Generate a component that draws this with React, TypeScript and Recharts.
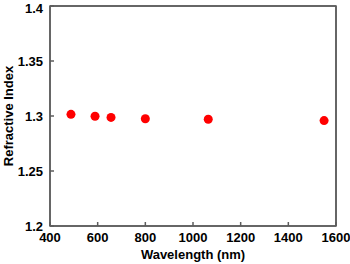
import { ScatterChart, Scatter, XAxis, YAxis, ReferenceArea } from "recharts";

// wavelength (nm) and refractive index
const wavelengths = [488, 589, 656, 800, 1064, 1550];
const refractive = [1.3015, 1.2998, 1.2987, 1.2975, 1.297, 1.2958];

const xTicks = [400, 600, 800, 1000, 1200, 1400, 1600];
const yTicks = [1.2, 1.25, 1.3, 1.35, 1.4];

const points = wavelengths.map((w, i) => ({ w, n: refractive[i] }));

const AXIS = "#5c5c5c";
const SW = 1.5;
const tickStyle = { fill: "#000", fontSize: 13, fontWeight: 700 };
const fmtY = (v: number) => String(Number(v.toFixed(2)));

export default function App() {
  return (
    <div style={{ position: "absolute", left: 0, top: 0, background: "#fff" }}>
      <ScatterChart
        width={350}
        height={264}
        margin={{ top: 5, right: 13, bottom: 0, left: 0 }}
        style={{ fontFamily: "'Liberation Sans', Arial, sans-serif" }}
      >
        <XAxis
          xAxisId="b"
          type="number"
          dataKey="w"
          domain={[400, 1600]}
          ticks={xTicks}
          height={38}
          stroke={AXIS}
          strokeWidth={SW}
          tickSize={-4}
          tickMargin={11}
          tick={tickStyle}
          label={{
            value: "Wavelength (nm)",
            position: "insideBottom",
            offset: 5,
            style: { fill: "#000", fontSize: 13, fontWeight: 700 },
          }}
        />
        {/* top and right axes only close the box */}
        <XAxis
          xAxisId="t"
          orientation="top"
          type="number"
          domain={[400, 1600]}
          allowDataOverflow
          ticks={xTicks}
          height={1}
          stroke={AXIS}
          strokeWidth={SW}
          tickSize={-4}
          tick={false}
        />
        <YAxis
          yAxisId="l"
          type="number"
          dataKey="n"
          domain={[1.2, 1.4]}
          ticks={yTicks}
          width={50}
          stroke={AXIS}
          strokeWidth={SW}
          tickSize={-4}
          tickMargin={11}
          tick={tickStyle}
          tickFormatter={fmtY}
          label={{
            value: "Refractive Index",
            angle: -90,
            position: "insideLeft",
            offset: 8,
            style: { fill: "#000", fontSize: 13, fontWeight: 700, textAnchor: "middle" },
          }}
        />
        <YAxis
          yAxisId="r"
          orientation="right"
          type="number"
          domain={[1.2, 1.4]}
          allowDataOverflow
          ticks={yTicks}
          width={1}
          stroke={AXIS}
          strokeWidth={SW}
          tickSize={-4}
          tick={false}
        />
        <ReferenceArea
          xAxisId="b"
          yAxisId="l"
          x1={400}
          x2={1600}
          y1={1.2}
          y2={1.4}
          fill="none"
          fillOpacity={0}
          stroke={AXIS}
          strokeWidth={SW}
        />
        <Scatter
          xAxisId="b"
          yAxisId="l"
          data={points}
          fill="#ff0000"
          isAnimationActive={false}
          shape={(p: any) => <circle cx={p.cx} cy={p.cy} r={4.5} fill="#ff0000" />}
        />
      </ScatterChart>
    </div>
  );
}
